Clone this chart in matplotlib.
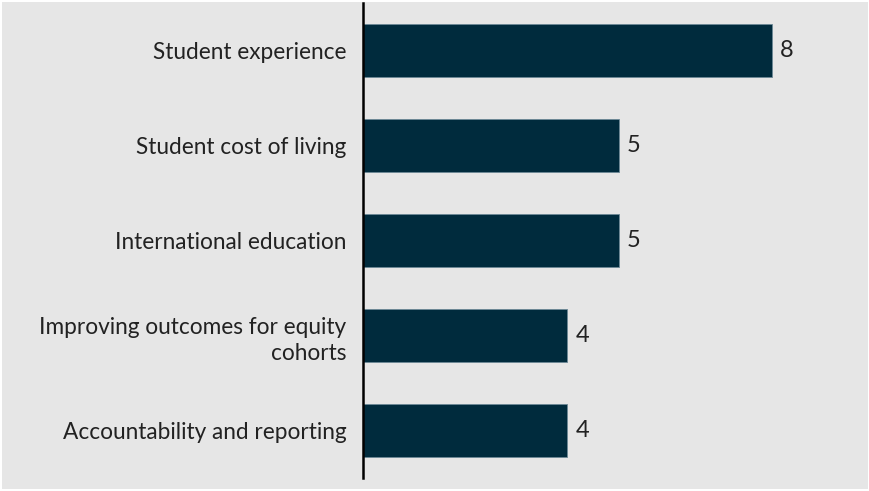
import matplotlib.pyplot as plt
from matplotlib.patches import Rectangle

# topics and how many times each came up
topics = ['Student experience', 'Student cost of living', 'International education',
          'Improving outcomes for equity\ncohorts', 'Accountability and reporting']
counts = [8, 5, 5, 4, 4]

plt.rcParams['font.family'] = ['Lato', 'DejaVu Sans']

fig = plt.figure(figsize=(8.7, 4.91), dpi=100, facecolor='white')
# grey panel behind the chart with a thin white margin
fig.patches.append(Rectangle((2 / 870, 2 / 491), 866 / 870, 487 / 491,
                             transform=fig.transFigure, facecolor='#e6e6e6',
                             edgecolor='none', zorder=-10))

ax = fig.add_axes([363 / 870, 13 / 491, 505 / 870, 475 / 491])
ax.set_facecolor('none')

pos = list(range(len(topics)))
bars = ax.barh(pos, counts, height=0.55, color='#002b3d',
               edgecolor='#6d8896', linewidth=0.6)
ax.set_ylim(4.5, -0.5)
ax.set_xlim(0, 9.88)

ax.set_yticks(pos)
ax.set_yticklabels(topics, fontsize=16.3, color='#222222', ha='right',
                   multialignment='right', linespacing=1.35)
ax.tick_params(axis='y', length=0, pad=12)
ax.set_xticks([])

for s in ['top', 'right', 'bottom']:
    ax.spines[s].set_visible(False)
ax.spines['left'].set_color('black')
ax.spines['left'].set_linewidth(1.8)

for rect, v in zip(bars, counts):
    ax.annotate(str(v), (rect.get_width(), rect.get_y() + rect.get_height() / 2),
                xytext=(6, 0), textcoords='offset points', va='center', ha='left',
                fontsize=17, color='#222222')

fig.savefig('out.png', dpi=100, facecolor='white')
